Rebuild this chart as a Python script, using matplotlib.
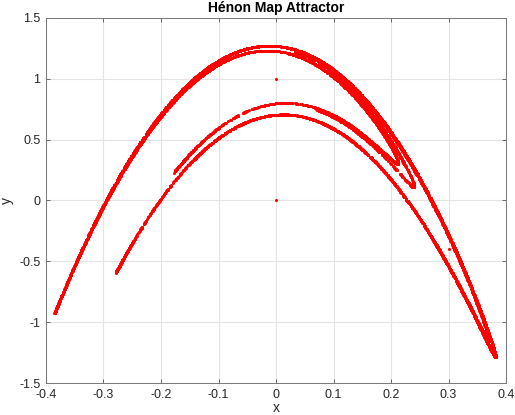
import numpy as np
import matplotlib
matplotlib.use("Agg")
import matplotlib.pyplot as plt

# Hénon map parameters (the chart's data-defining values)
a_param = 1.4
b_param = 0.3
x_start = 0.0
y_start = 0.0
n_points = 10000

xs = [x_start]
ys = [y_start]
for _ in range(n_points - 1):
    xn, yn = xs[-1], ys[-1]
    xs.append(1 - a_param * xn * xn + yn)
    ys.append(b_param * xn)
xs = np.array(xs)
ys = np.array(ys)

x_ticks = [-0.4, -0.3, -0.2, -0.1, 0, 0.1, 0.2, 0.3, 0.4]
x_tick_labels = ["-0.4", "-0.3", "-0.2", "-0.1", "0", "0.1", "0.2", "0.3", "0.4"]
y_ticks = [-1.5, -1, -0.5, 0, 0.5, 1, 1.5]
y_tick_labels = ["-1.5", "-1", "-0.5", "0", "0.5", "1", "1.5"]

plt.rcParams['font.family'] = ['Liberation Sans', 'DejaVu Sans']

fig = plt.figure(figsize=(5.15, 4.15), dpi=100)
ax = fig.add_axes([46/515, 1 - 383/415, (506-46)/515, (383-18)/415])

ax.plot(ys, xs, linestyle='none', marker='o', markersize=2.2,
        markeredgewidth=0, color='#ff0000')

ax.set_xlim(-0.4, 0.4)
ax.set_ylim(-1.5, 1.5)
ax.set_xticks(x_ticks)
ax.set_xticklabels(x_tick_labels)
ax.set_yticks(y_ticks)
ax.set_yticklabels(y_tick_labels)
ax.grid(True, color='#e3e3e3', linewidth=0.8)
ax.set_axisbelow(True)
ax.tick_params(direction='in', top=True, right=True, length=3,
               width=0.6, color='#555555', labelsize=9, labelcolor='#262626', pad=4)
for s in ax.spines.values():
    s.set_color('#777777')
    s.set_linewidth(0.7)

ax.set_xlabel('x', fontsize=10, color='#262626', labelpad=0)
ax.set_ylabel('y', fontsize=10, color='#262626', labelpad=4)
ax.set_title('Hénon Map Attractor', fontsize=10, fontweight='bold', pad=4)

fig.savefig('out.png', dpi=100)
